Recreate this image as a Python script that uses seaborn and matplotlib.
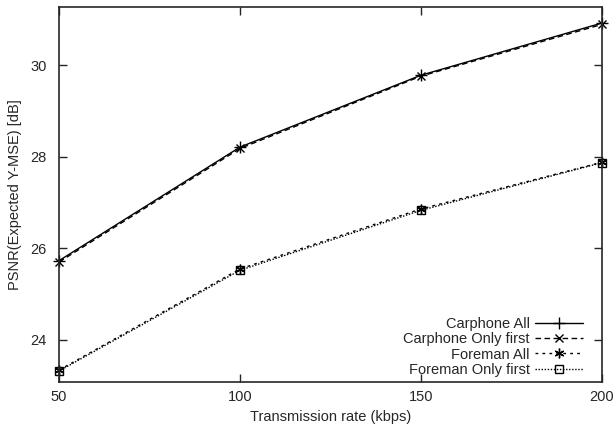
import matplotlib
matplotlib.use("Agg")
import matplotlib.pyplot as plt
import seaborn as sns
import pandas as pd

rates = [50, 100, 150, 200]
carphone_all = [25.73, 28.21, 29.78, 30.92]
carphone_first = [25.70, 28.18, 29.76, 30.89]
foreman_all = [23.34, 25.55, 26.86, 27.88]
foreman_first = [23.32, 25.52, 26.83, 27.87]
series_names = ["Carphone All", "Carphone Only first", "Foreman All", "Foreman Only first"]
xticks = [50, 100, 150, 200]
yticks = [24, 26, 28, 30]

sns.set_style("ticks")
plt.rcParams["font.family"] = ["Liberation Sans", "DejaVu Sans"]
FS = 10.5
plt.rcParams["font.size"] = FS

W, H = 615, 430
L, R, T, B = 59, 602, 7, 382
fig = plt.figure(figsize=(W / 100, H / 100), dpi=100)
ax = fig.add_axes([L / W, 1 - B / H, (R - L) / W, (B - T) / H])

styles = [
    dict(marker="+", dashes=None, ms=8),
    dict(marker="x", dashes=(4, 2.5), ms=6),
    dict(marker=(6, 2, 0), dashes=(2, 3), ms=7),
    dict(marker="s", dashes=(1, 1.2), ms=6),
]
values = [carphone_all, carphone_first, foreman_all, foreman_first]
for name, vals, st in zip(series_names, values, styles):
    df = pd.DataFrame({"rate": rates, "psnr": vals})
    sns.lineplot(data=df, x="rate", y="psnr", ax=ax, color="black", lw=1.0,
                 marker=st["marker"], markersize=st["ms"], markerfacecolor="none",
                 markeredgecolor="black", markeredgewidth=1.0, label=name,
                 clip_on=False)
    line = ax.get_lines()[-1]
    if st["dashes"] is not None:
        line.set_dashes(st["dashes"])

ax.set_xlim(50, 200)
ax.set_ylim(23.08, 31.27)
ax.set_xticks(xticks)
ax.set_yticks(yticks)
ax.tick_params(direction="in", length=6, width=1, top=True, right=True, labelsize=FS)
ax.tick_params(axis="x", pad=6)
ax.tick_params(axis="y", pad=9)
for s in ax.spines.values():
    s.set_linewidth(1.2)
ax.set_xlabel("Transmission rate (kbps)", fontsize=FS, labelpad=4)
ax.set_ylabel("PSNR(Expected Y-MSE) [dB]", fontsize=FS, labelpad=6)

handles, labels = ax.get_legend_handles_labels()
ax.legend(handles, labels, loc="lower right", frameon=False, markerfirst=False,
          handlelength=3.3, fontsize=FS, labelspacing=0.1, handletextpad=0.35,
          borderpad=0, borderaxespad=0,
          bbox_to_anchor=((583 - L) / (R - L), 5 / (B - T)))

fig.savefig("out.png", dpi=100)
